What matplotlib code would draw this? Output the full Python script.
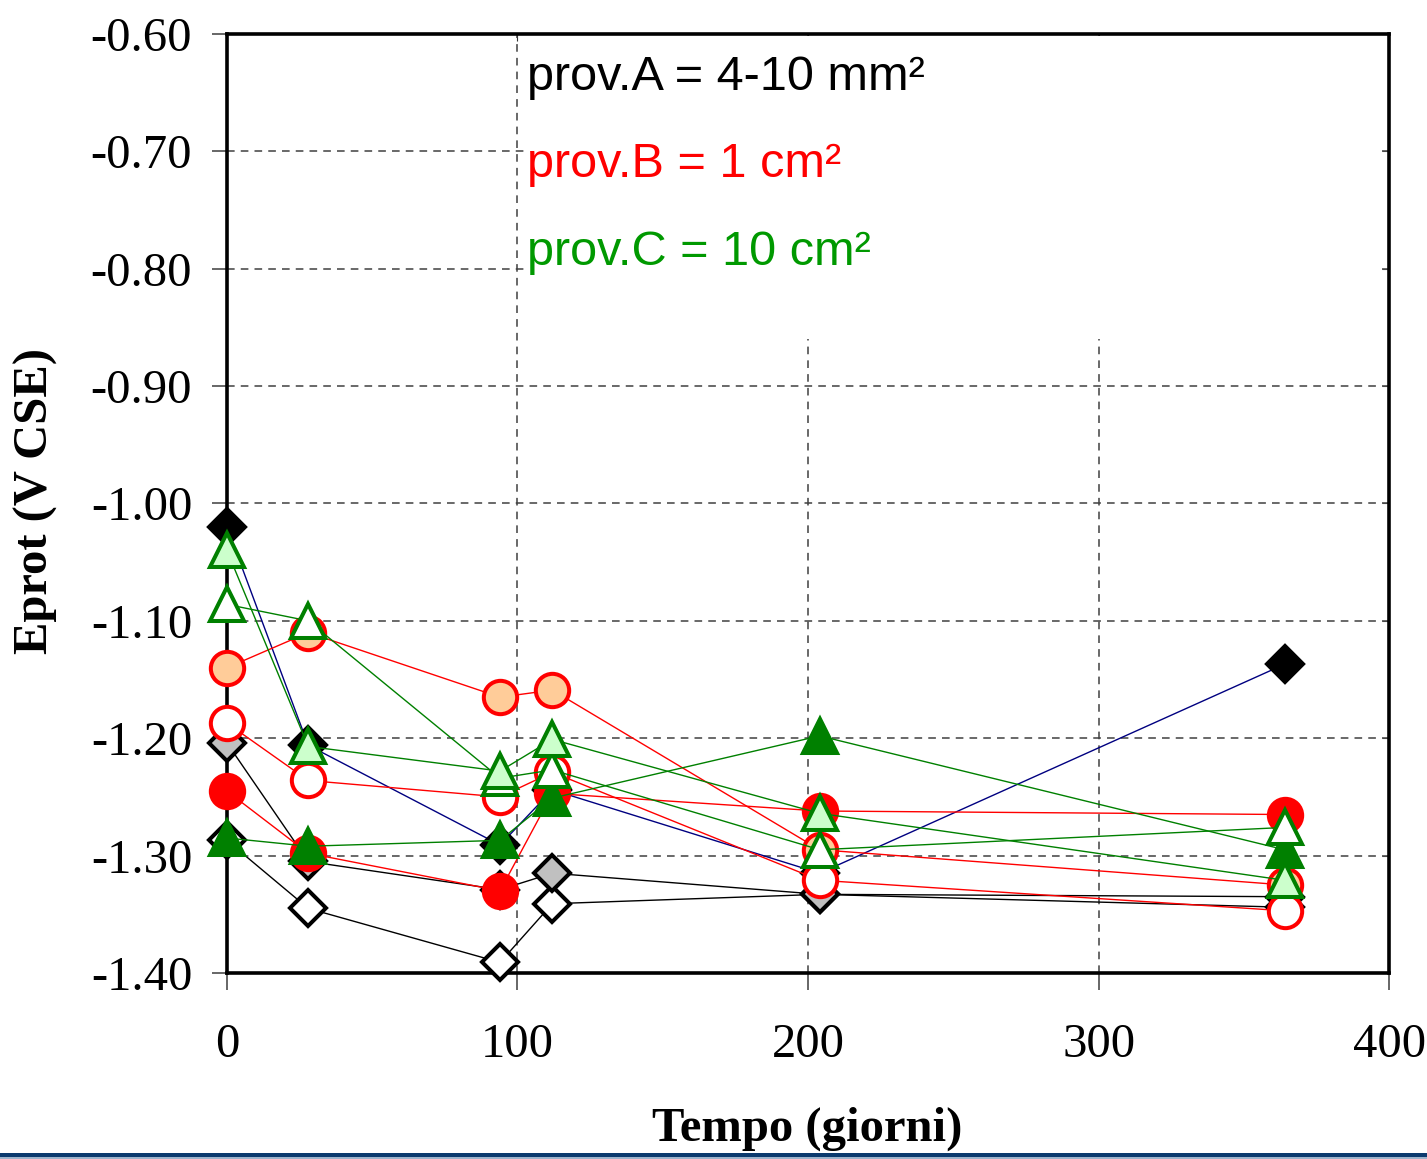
import numpy as np
import matplotlib.pyplot as plt
from matplotlib.patches import Rectangle

# tempo (giorni)
t = [0, 28, 94, 112, 204, 364]

# prov.A - 4-10 mm2
a_black = [-1.020, -1.206, -1.291, -1.244, -1.315, -1.137]
a_gray = [-1.204, -1.305, -1.329, -1.315, -1.333, -1.335]
a_white = [-1.287, -1.345, -1.391, -1.341, -1.333, -1.344]

# prov.B - 1 cm2
b_red = [-1.245, -1.298, -1.330, -1.247, -1.262, -1.265]
b_peach = [-1.140, -1.110, -1.165, -1.159, -1.295, -1.325]
b_white = [-1.187, -1.236, -1.250, -1.229, -1.321, -1.347]

# prov.C - 10 cm2
c_green = [-1.285, -1.292, -1.287, -1.251, -1.198, -1.295]
c_white = [-1.086, -1.100, -1.234, -1.227, -1.295, -1.276]
c_light = [-1.040, -1.207, -1.228, -1.201, -1.264, -1.321]

yticks = [-0.60, -0.70, -0.80, -0.90, -1.00, -1.10, -1.20, -1.30, -1.40]
xticks = [0, 100, 200, 300, 400]

serif = ['Liberation Serif', 'DejaVu Serif']
sans = ['Liberation Sans', 'DejaVu Sans']

fig = plt.figure(figsize=(14.27, 11.59), dpi=100)
ax = fig.add_axes([0.159, 0.1605, 0.8145, 0.8102])

# (y, line colour, marker, face, edge)
series = [
    (a_white, 'black', 'D', 'white', 'black'),
    (a_gray, 'black', 'D', '#C0C0C0', 'black'),
    (a_black, '#000080', 'D', 'black', 'black'),
    (b_peach, 'red', 'o', '#FFCC99', 'red'),
    (b_white, 'red', 'o', 'white', 'red'),
    (b_red, 'red', 'o', 'red', 'red'),
    (c_green, 'green', '^', 'green', 'green'),
    (c_white, 'green', '^', 'white', 'green'),
    (c_light, 'green', '^', '#CCFFCC', 'green'),
]
for y, lc, mk, fc, ec in series:
    ms = 18 if mk == 'D' else 24
    ax.plot(t, y, color=lc, lw=1, marker=mk, ms=ms, mfc=fc, mec=ec,
            mew=2.9, clip_on=False, zorder=3)

ax.set_xlim(0, 400)
ax.set_ylim(-1.40, -0.60)
ax.set_xticks(xticks)
ax.set_yticks(yticks)
ax.set_yticklabels([f'{v:.2f}' for v in yticks], family=serif, fontsize=35)
ax.set_xticklabels([str(v) for v in xticks], family=serif, fontsize=35)
ax.tick_params(axis='y', length=11, width=1.2, pad=14, color='0.3')
ax.tick_params(axis='x', length=12, width=1.2, pad=24, color='0.3')

ax.grid(True, color='0.25', lw=1.1, ls=(0, (5, 4)))
ax.set_axisbelow(True)
for s in ax.spines.values():
    s.set_linewidth(2.6)

sec = ax.secondary_yaxis('right')
sec.set_yticks(yticks)
sec.tick_params(direction='in', length=5, labelright=False, color='0.4')
sec.spines['right'].set_visible(False)
sec2 = ax.secondary_xaxis('top')
sec2.set_xticks(xticks)
sec2.tick_params(direction='in', length=5, labeltop=False, color='0.2')
sec2.spines['top'].set_visible(False)

# white box behind the labels
ax.add_patch(Rectangle((0.257, 0.675), 0.735, 0.323, transform=ax.transAxes,
                       facecolor='white', edgecolor='none', zorder=1))
ax.text(0.258, 0.940, 'prov.A = 4-10 mm²', transform=ax.transAxes,
        family=sans, fontsize=35, color='black', va='baseline', zorder=2)
ax.text(0.258, 0.848, 'prov.B = 1 cm²', transform=ax.transAxes,
        family=sans, fontsize=35, color='red', va='baseline', zorder=2)
ax.text(0.258, 0.754, 'prov.C = 10 cm²', transform=ax.transAxes,
        family=sans, fontsize=35, color='#009900', va='baseline', zorder=2)

fig.text(0.5655, 0.026, 'Tempo (giorni)', family=serif, fontsize=35,
         fontweight='bold', ha='center', va='center')
fig.text(0.025, 0.568, 'Eprot (V CSE)', family=serif, fontsize=35,
         fontweight='bold', ha='center', va='center', rotation=90)

# bottom strip of the slide
fig.add_artist(Rectangle((0, 2 / 1159), 1, 4 / 1159, transform=fig.transFigure,
                         facecolor='#0b3a6e', edgecolor='none'))
fig.add_artist(Rectangle((0, 0), 1, 2 / 1159, transform=fig.transFigure,
                         facecolor='#9db4cc', edgecolor='none'))

fig.savefig('out.png', dpi=100)
